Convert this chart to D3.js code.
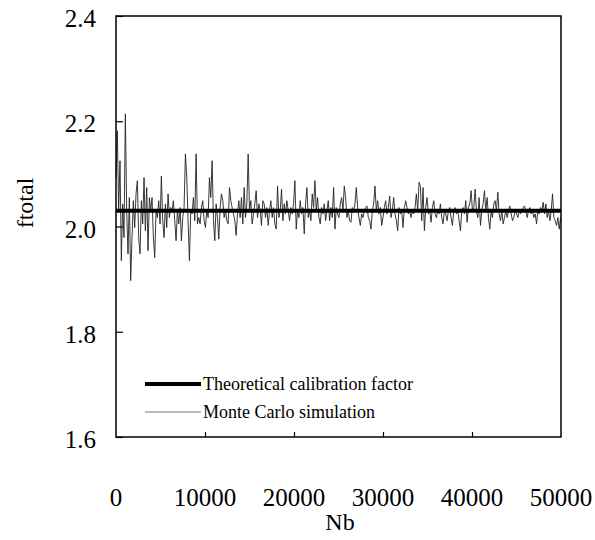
<!DOCTYPE html>
<html>
<head>
<meta charset="utf-8">
<script src="https://cdn.jsdelivr.net/npm/d3@7"></script>
<style>
  html, body { margin: 0; padding: 0; background: #fff; }
  svg { display: block; }
  text { font-family: "Liberation Serif", "Times New Roman", serif; fill: #000; }
</style>
</head>
<body>
<svg id="chart" width="595" height="540"></svg>
<script>
// ---- data ----
const xTickValues = [0, 10000, 20000, 30000, 40000, 50000];
const xTickLabels = ["0", "10000", "20000", "30000", "40000", "50000"];
const yTickValues = [1.6, 1.8, 2.0, 2.2, 2.4];
const yTickLabels = ["1.6", "1.8", "2.0", "2.2", "2.4"];
const theoreticalFactor = 2.03;
const nbStep = 150; // sampling interval of the Monte Carlo series
const monteCarlo = [
  2.093, 2.182, 2.030, 2.125, 1.935, 2.043, 1.979, 2.214, 2.030, 1.948,
  2.055, 1.897, 1.979, 2.049, 1.998, 2.062, 2.087, 1.979, 1.948, 2.049,
  2.005, 2.093, 1.992, 2.074, 1.954, 2.055, 2.030, 2.055, 1.979, 1.941,
  2.030, 2.017, 2.049, 2.005, 2.096, 2.011, 1.979, 2.043, 1.998, 2.062,
  2.017, 2.036, 2.030, 2.049, 2.011, 1.973, 2.030, 2.005, 2.036, 1.973,
  2.017, 2.036, 2.138, 2.093, 2.011, 1.935,
  2.030, 2.024, 2.055, 2.011, 2.138, 2.005, 2.017, 2.005, 2.036, 2.049,
  2.011, 1.998, 2.030, 2.017, 2.093, 2.055, 2.125, 2.011, 1.973, 2.043,
  2.017, 1.976, 2.036, 2.062, 2.049, 2.017, 2.030, 2.011, 2.005, 2.074,
  2.049, 2.036, 2.024, 2.011, 1.983, 2.024, 2.049, 2.017, 2.055, 2.005,
  2.074, 2.017, 2.043, 2.138, 2.030, 2.049, 2.005, 2.024, 2.043, 2.068,
  2.017, 2.043, 2.030, 2.002, 2.049,
  2.043, 2.017, 2.036, 2.002, 2.030, 2.049, 2.017, 2.036, 2.005, 1.995,
  2.077, 2.017, 2.030, 2.071, 2.011, 2.043, 2.024, 2.049, 2.030, 2.011,
  2.036, 2.024, 2.043, 2.087, 1.995, 2.030, 2.017, 2.049, 2.024, 2.036,
  1.986, 2.043, 2.074, 2.017, 2.030, 2.011, 2.062, 2.036, 2.087, 2.030,
  2.055, 2.017, 2.005, 2.036, 2.024, 2.043, 2.011, 2.030, 2.049, 2.011,
  2.036, 2.017, 2.074, 1.995, 2.036, 2.024,
  2.017, 2.043, 2.055, 2.030, 2.077, 2.055, 2.017, 2.030, 2.011, 2.008,
  2.036, 2.030, 2.043, 2.074, 2.036, 2.017, 2.002, 2.024, 2.017, 2.030,
  2.036, 2.039, 2.017, 2.011, 1.995, 2.030, 2.043, 2.077, 2.030, 2.049,
  2.024, 2.036, 2.002, 2.017, 2.036, 2.049, 2.024, 2.036, 2.058, 2.017,
  2.030, 2.055, 2.024, 2.011, 1.992, 2.036, 2.024, 2.030, 1.998, 2.036,
  2.049, 2.036, 2.024, 2.030, 2.017, 2.030,
  2.024, 2.036, 2.062, 2.030, 2.084, 2.077, 2.011, 2.074, 1.992, 2.036,
  2.055, 2.024, 2.030, 2.008, 2.036, 2.049, 2.024, 2.017, 2.030, 2.024,
  2.043, 2.017, 2.005, 2.030, 2.024, 2.011, 2.030, 2.036, 2.017, 2.002,
  2.030, 2.036, 2.024, 2.030, 2.011, 1.992, 2.030, 2.036, 2.024, 2.049,
  2.008, 2.036, 2.043, 2.068, 2.030, 2.036, 2.071, 2.030, 2.017, 2.055,
  2.002, 2.030, 2.043, 2.068, 2.030,
  2.055, 2.017, 1.995, 2.030, 2.017, 2.043, 2.049, 2.030, 2.065, 2.024,
  2.011, 2.030, 2.005, 2.017, 2.030, 2.017, 2.030, 2.039, 2.024, 2.011,
  2.017, 2.030, 2.024, 2.017, 2.030, 2.024, 2.030, 2.036, 2.039, 2.030,
  2.017, 2.030, 2.036, 2.024, 2.030, 2.017, 2.024, 2.005, 2.030, 2.024,
  2.036, 2.030, 2.046, 2.024, 2.043, 2.017, 2.030, 2.011, 2.030, 2.062,
  2.017, 2.011, 2.002, 2.017, 1.995, 2.017
];
const legendLabels = ["Theoretical calibration factor", "Monte Carlo simulation"];

// ---- layout ----
const W = 595, H = 540;
const margin = { top: 16, right: 34, bottom: 103, left: 116 };
const iw = W - margin.left - margin.right;
const ih = H - margin.top - margin.bottom;

const svg = d3.select("#chart");
const g = svg.append("g").attr("transform", `translate(${margin.left},${margin.top})`);

const x = d3.scaleLinear().domain([0, 50000]).range([0, iw]);
const y = d3.scaleLinear().domain([1.6, 2.4]).range([ih, 0]);

const series = monteCarlo.map((v, i) => ({ nb: i * nbStep, f: v }));

// Monte Carlo line
g.append("path")
  .datum(series)
  .attr("fill", "none")
  .attr("stroke", "#222")
  .attr("stroke-width", 0.9)
  .attr("stroke-linejoin", "miter")
  .attr("d", d3.line().x(d => x(d.nb)).y(d => y(d.f)));

// Theoretical line
g.append("line")
  .attr("x1", x(0)).attr("x2", x(50000))
  .attr("y1", y(theoreticalFactor)).attr("y2", y(theoreticalFactor))
  .attr("stroke", "#000").attr("stroke-width", 4);

// Axes (ticks pointing inward, labels drawn separately)
const yAxis = d3.axisLeft(y).tickValues(yTickValues).tickSizeInner(-7).tickSizeOuter(0).tickFormat("");
const yAx = g.append("g").call(yAxis);
yAx.select(".domain").remove();
yAx.selectAll(".tick line").attr("stroke", "#000").attr("stroke-width", 1.2);

const xAxis = d3.axisBottom(x).tickValues(xTickValues.slice(1, -1)).tickSizeInner(-5).tickSizeOuter(0).tickFormat("");
const xAx = g.append("g").attr("transform", `translate(0,${ih})`).call(xAxis);
xAx.select(".domain").remove();
xAx.selectAll(".tick line").attr("stroke", "#000").attr("stroke-width", 1.2);

// Frame
g.append("rect")
  .attr("x", 0).attr("y", 0).attr("width", iw).attr("height", ih)
  .attr("fill", "none").attr("stroke", "#000").attr("stroke-width", 1.5);

// Y tick labels
g.selectAll(".ylab").data(yTickValues).enter().append("text")
  .attr("class", "ylab")
  .attr("x", -20)
  .attr("y", d => y(d) + 2.5)
  .attr("text-anchor", "end")
  .attr("dominant-baseline", "central")
  .style("font-size", "25px")
  .text((d, i) => yTickLabels[i]);

// X tick labels
g.selectAll(".xlab").data(xTickValues).enter().append("text")
  .attr("class", "xlab")
  .attr("x", d => x(d))
  .attr("y", ih + 60)
  .attr("text-anchor", "middle")
  .attr("dominant-baseline", "central")
  .style("font-size", "25px")
  .text((d, i) => xTickLabels[i]);

// Axis titles
svg.append("text")
  .attr("x", 340).attr("y", 522)
  .attr("text-anchor", "middle")
  .attr("dominant-baseline", "central")
  .style("font-size", "24px")
  .text("Nb");

svg.append("text")
  .attr("transform", "translate(25,203) rotate(-90)")
  .attr("text-anchor", "middle")
  .attr("dominant-baseline", "central")
  .style("font-size", "24px")
  .text("ftotal");

// Legend
const legendY = [384, 412];
const legendStroke = [4, 1];
const legendColor = ["#000", "#777"];
legendLabels.forEach((lab, i) => {
  svg.append("line")
    .attr("x1", 145).attr("x2", 201)
    .attr("y1", legendY[i]).attr("y2", legendY[i])
    .attr("stroke", legendColor[i]).attr("stroke-width", legendStroke[i]);
  svg.append("text")
    .attr("x", 203).attr("y", legendY[i])
    .attr("dominant-baseline", "central")
    .style("font-size", "18px")
    .text(lab);
});
</script>
</body>
</html>
